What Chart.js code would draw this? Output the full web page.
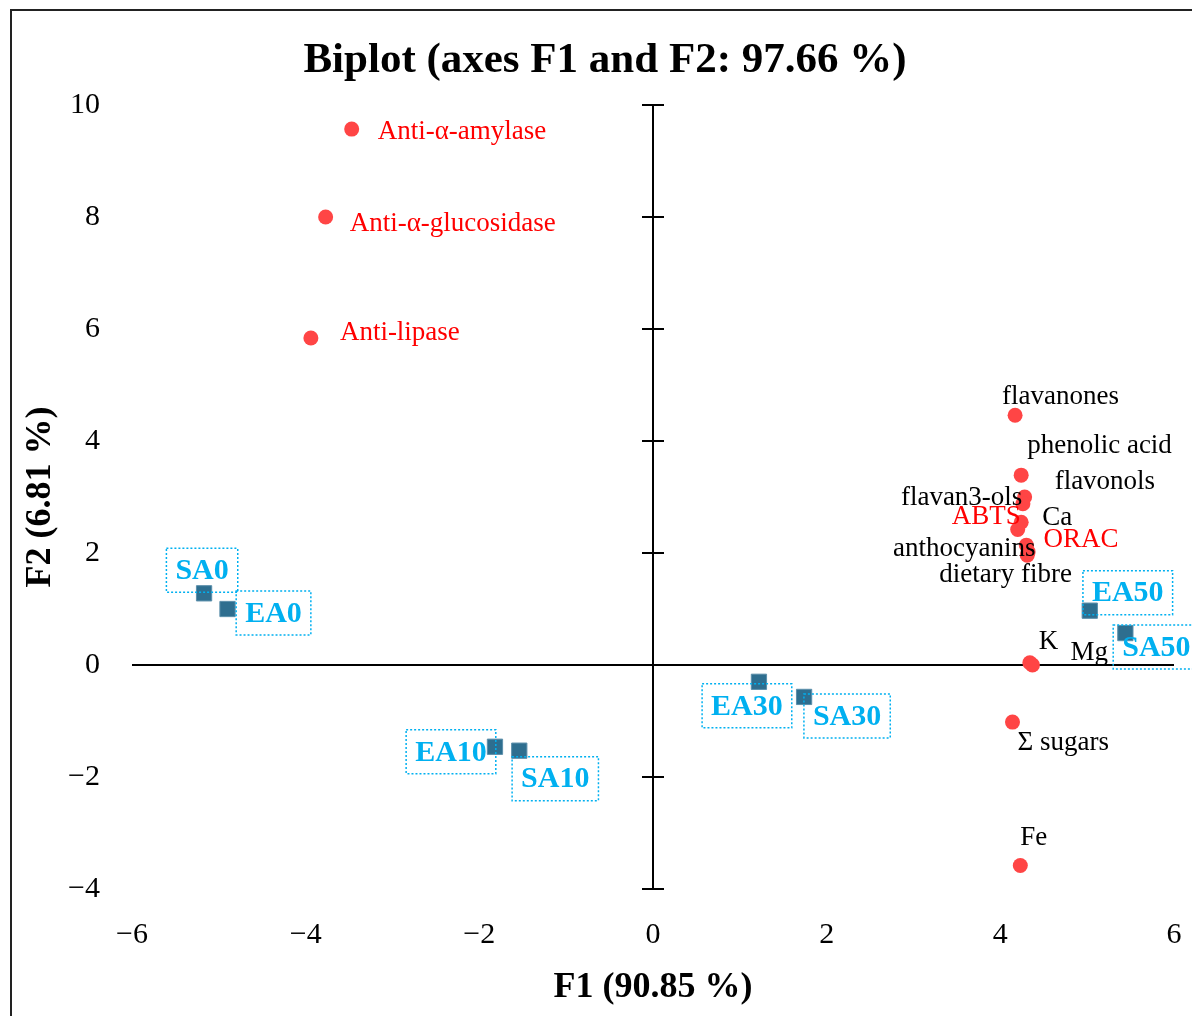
<!DOCTYPE html>
<html><head><meta charset="utf-8">
<script src="https://cdn.jsdelivr.net/npm/chart.js@4.4.1/dist/chart.umd.min.js"></script>
<style>html,body{margin:0;padding:0;background:#fff;}canvas{display:block;}</style>
</head><body>
<canvas id="c" width="1192" height="1016"></canvas>
<script>
// ---- data ----
const chartTitle = 'Biplot (axes F1 and F2: 97.66 %)';
const variableNames = ['Anti-α-amylase','Anti-α-glucosidase','Anti-lipase','flavanones','phenolic acid','flavonols','flavan3-ols','Ca','ABTS','ORAC','anthocyanins','dietary fibre','K','Mg','Σ sugars','Fe'];
const variableF1 = [-3.47,-3.77,-3.94,4.17,4.24,4.28,4.26,4.24,4.20,4.30,4.32,4.31,4.34,4.37,4.14,4.23];
const variableF2 = [9.57,8.00,5.84,4.46,3.39,3.00,2.88,2.55,2.42,2.14,2.02,1.96,0.04,0.00,-1.02,-3.58];
const observationNames = ['SA0','EA0','EA10','SA10','EA30','SA30','EA50','SA50'];
const observationF1 = [-5.17,-4.90,-1.82,-1.54,1.22,1.74,5.03,5.44];
const observationF2 = [1.28,1.00,-1.46,-1.53,-0.30,-0.57,0.97,0.57];
const xTickLabels = ['−6','−4','−2','0','2','4','6'];
const yTickLabels = ['−4','−2','0','2','4','6','8','10'];

// ---- label placement (pixel offsets from each point) and styles ----
const variableLabelOffsets = [[26,3],[24,7],[29,-5],[-13,-18],[6,-29],[30,-15],[-122,-6],[21,-4],[-66,-13],[17,-5],[-135,-3],[-88,20],[9,-21],[38,-12],[5,21],[0,-28]];
const redLabels = new Set(['Anti-α-amylase','Anti-α-glucosidase','Anti-lipase','ABTS','ORAC']);
const observationLabelOffsets = [[-2,-23],[46,4],[-44,5],[36,28],[-12,24],[43,19],[38,-18],[31,14]];
const SERIF = "'Liberation Serif','Times New Roman',serif";

const axesPlugin = {
  id: 'axesPlugin',
  beforeDraw(chart) {
    const ctx = chart.ctx;
    ctx.save();
    ctx.strokeStyle = '#222';
    ctx.lineWidth = 2;
    ctx.beginPath();
    ctx.moveTo(11, 1016); ctx.lineTo(11, 10); ctx.lineTo(1192, 10);
    ctx.stroke();
    ctx.fillStyle = '#000';
    ctx.font = "bold 43px " + SERIF;
    ctx.textAlign = 'center';
    ctx.textBaseline = 'middle';
    ctx.fillText(chartTitle, 605, 61);
    ctx.restore();
  },
  beforeDatasetsDraw(chart) {
    const {ctx, chartArea, scales: {x, y}} = chart;
    const x0 = x.getPixelForValue(0), y0 = y.getPixelForValue(0);
    ctx.save();
    ctx.strokeStyle = '#000';
    ctx.lineWidth = 2;
    ctx.beginPath();
    ctx.moveTo(chartArea.left, y0); ctx.lineTo(chartArea.right, y0);
    ctx.moveTo(x0, chartArea.top); ctx.lineTo(x0, chartArea.bottom);
    y.ticks.forEach(t => {
      const py = y.getPixelForValue(t.value);
      ctx.moveTo(x0 - 11, py); ctx.lineTo(x0 + 11, py);
    });
    ctx.stroke();
    ctx.restore();
  }
};

const labelPlugin = {
  id: 'labelPlugin',
  afterDatasetsDraw(chart) {
    const ctx = chart.ctx;
    ctx.save();
    ctx.textBaseline = 'middle';
    const vmeta = chart.getDatasetMeta(0);
    ctx.font = "27px " + SERIF;
    ctx.textAlign = 'left';
    vmeta.data.forEach((pt, i) => {
      const name = variableNames[i];
      ctx.fillStyle = redLabels.has(name) ? '#ff0000' : '#000000';
      ctx.fillText(name, pt.x + variableLabelOffsets[i][0], pt.y + variableLabelOffsets[i][1]);
    });
    const ometa = chart.getDatasetMeta(1);
    ctx.font = "bold 30px " + SERIF;
    ctx.textAlign = 'center';
    ometa.data.forEach((pt, i) => {
      const name = observationNames[i];
      const cx = pt.x + observationLabelOffsets[i][0];
      const cy = pt.y + observationLabelOffsets[i][1];
      const w = ctx.measureText(name).width + 18;
      const h = 44;
      ctx.strokeStyle = '#00b0f0';
      ctx.lineWidth = 1.5;
      ctx.setLineDash([2, 2]);
      ctx.strokeRect(cx - w / 2, cy - h / 2, w, h);
      ctx.setLineDash([]);
      ctx.fillStyle = '#00b0f0';
      ctx.fillText(name, cx, cy + 1);
    });
    ctx.restore();
  }
};

new Chart(document.getElementById('c'), {
  type: 'scatter',
  data: {
    datasets: [
      {
        label: 'Variables',
        data: variableF1.map((v, i) => ({x: v, y: variableF2[i]})),
        pointStyle: 'circle',
        pointRadius: 7.5,
        backgroundColor: '#ff4545',
        borderColor: '#ff4545',
        borderWidth: 0
      },
      {
        label: 'Observations',
        data: observationF1.map((v, i) => ({x: v, y: observationF2[i]})),
        pointStyle: 'rect',
        pointRadius: 10.8,
        backgroundColor: '#2e6e8f',
        borderColor: '#5b8fab',
        borderWidth: 1
      }
    ]
  },
  options: {
    responsive: false,
    animation: false,
    devicePixelRatio: 1,
    layout: {padding: {left: 0, right: 18, top: 105, bottom: 0}},
    plugins: {
      legend: {display: false},
      tooltip: {enabled: false},
      title: {display: false}
    },
    scales: {
      x: {
        type: 'linear',
        min: -6, max: 6,
        grid: {display: false, drawTicks: false},
        border: {display: false},
        ticks: {
          stepSize: 2,
          padding: 28,
          color: '#000',
          font: {family: SERIF, size: 30, lineHeight: 1.2},
          callback: (v, i) => xTickLabels[i]
        },
        title: {
          display: true,
          text: 'F1 (90.85 %)',
          color: '#000',
          font: {family: SERIF, size: 36, weight: 'bold', lineHeight: 1.2},
          padding: {top: 0, bottom: 7}
        },
        afterFit(scale) { scale.height = 127; scale.paddingLeft = 0; scale.paddingRight = 0; }
      },
      y: {
        type: 'linear',
        min: -4, max: 10,
        grid: {display: false, drawTicks: false},
        border: {display: false},
        ticks: {
          stepSize: 2,
          padding: 32,
          color: '#000',
          font: {family: SERIF, size: 30, lineHeight: 1.2},
          callback: (v, i) => yTickLabels[i]
        },
        title: {
          display: true,
          text: 'F2 (6.81 %)',
          color: '#000',
          font: {family: SERIF, size: 36, weight: 'bold', lineHeight: 1.2},
          padding: {top: 19, bottom: 0}
        },
        afterFit(scale) { scale.width = 132; scale.paddingTop = 0; scale.paddingBottom = 0; }
      }
    }
  },
  plugins: [axesPlugin, labelPlugin]
});
</script>
</body></html>
